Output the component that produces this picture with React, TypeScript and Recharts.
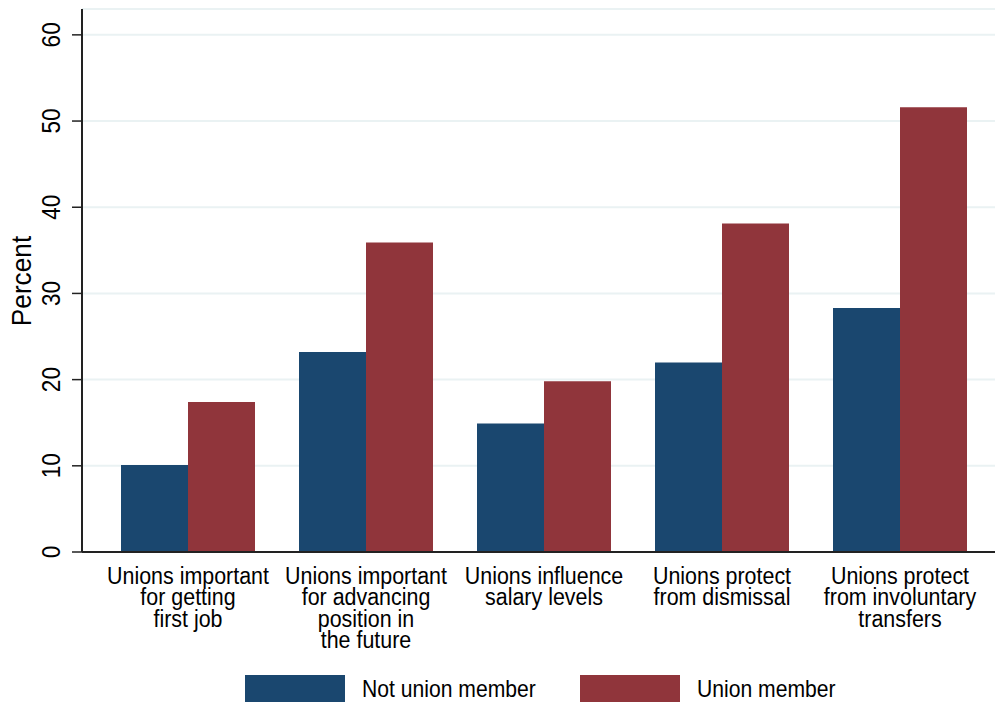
import { BarChart, Bar, XAxis, YAxis, CartesianGrid, Legend, Label } from "recharts";

const categories = [
  "Unions important\nfor getting\nfirst job",
  "Unions important\nfor advancing\nposition in\nthe future",
  "Unions influence\nsalary levels",
  "Unions protect\nfrom dismissal",
  "Unions protect\nfrom involuntary\ntransfers",
];
const notMember = [10.1, 23.2, 14.9, 22.0, 28.3];
const member = [17.4, 35.9, 19.8, 38.1, 51.6];
const yTicks = [0, 10, 20, 30, 40, 50, 60];

const NAVY = "#1a476f";
const MAROON = "#90353b";
const FONT = "'Liberation Sans', Arial, Helvetica, sans-serif";
// reference glyphs are a bit narrower than Liberation Sans
const SQ = 0.92;

const data = categories.map((name, i) => ({
  name,
  notMember: notMember[i],
  member: member[i],
}));

function XTick({ x, y, payload }: any) {
  const lines = String(payload.value).split("\n");
  return (
    <g transform={`translate(${x}, ${y + 30}) scale(${SQ}, 1)`}>
      <text x={0} y={0} textAnchor="middle" fontSize={23.3} fill="#000" fontFamily={FONT}>
        {lines.map((line, i) => (
          <tspan key={i} x={0} dy={i === 0 ? 0 : 21.3}>
            {line}
          </tspan>
        ))}
      </text>
    </g>
  );
}

function YTick({ y, payload }: any) {
  return (
    <text
      x={0}
      y={0}
      transform={`translate(60, ${y}) rotate(-90) scale(0.85, 1)`}
      textAnchor="middle"
      fontSize={26.5}
      fill="#000"
      fontFamily={FONT}
    >
      {payload.value}
    </text>
  );
}

function LegendBox() {
  const items = [
    { label: "Not union member", color: NAVY, left: 245 },
    { label: "Union member", color: MAROON, left: 580 },
  ];
  return (
    <svg width={995} height={27} style={{ display: "block" }}>
      {items.map((it) => (
        <g key={it.label}>
          <rect x={it.left} y={0} width={100} height={27} fill={it.color} />
          <text
            x={0}
            y={0}
            transform={`translate(${it.left + 117}, 22) scale(${SQ}, 1)`}
            fontSize={23}
            fill="#000"
            fontFamily={FONT}
          >
            {it.label}
          </text>
        </g>
      ))}
    </svg>
  );
}

export default function App() {
  return (
    <div style={{ position: "absolute", left: 0, top: 0, background: "#fff" }}>
      <BarChart
        width={995}
        height={702}
        data={data}
        margin={{ top: 9, right: 0, bottom: 0, left: 0 }}
        barGap={0}
        barSize={67}
      >
        <CartesianGrid vertical={false} stroke="#eaf2f3" strokeWidth={2} />
        <XAxis
          dataKey="name"
          interval={0}
          height={123}
          padding={{ left: 17, right: 6 }}
          tickLine={false}
          tickSize={0}
          tick={<XTick />}
          axisLine={{ stroke: "#222", strokeWidth: 2 }}
        />
        <XAxis
          xAxisId="top"
          orientation="top"
          dataKey="name"
          height={0}
          tick={false}
          tickLine={false}
          axisLine={{ stroke: "#222", strokeWidth: 1.5 }}
        />
        <YAxis
          width={82}
          domain={[0, 63]}
          ticks={yTicks}
          interval={0}
          tickSize={10}
          tickLine={{ stroke: "#222", strokeWidth: 1.5 }}
          axisLine={{ stroke: "#222", strokeWidth: 2 }}
          tick={<YTick />}
        >
          <Label
            content={() => (
              <text
                x={0}
                y={0}
                transform={`translate(31, 281) rotate(-90) scale(${SQ}, 1)`}
                textAnchor="middle"
                fontSize={28.5}
                fill="#000"
                fontFamily={FONT}
              >
                Percent
              </text>
            )}
          />
        </YAxis>
        <Legend
          verticalAlign="bottom"
          content={<LegendBox />}
          wrapperStyle={{ left: 0, bottom: 0, width: 995, height: 27 }}
        />
        <Bar dataKey="notMember" name="Not union member" fill={NAVY} isAnimationActive={false} />
        <Bar dataKey="member" name="Union member" fill={MAROON} isAnimationActive={false} />
      </BarChart>
    </div>
  );
}
